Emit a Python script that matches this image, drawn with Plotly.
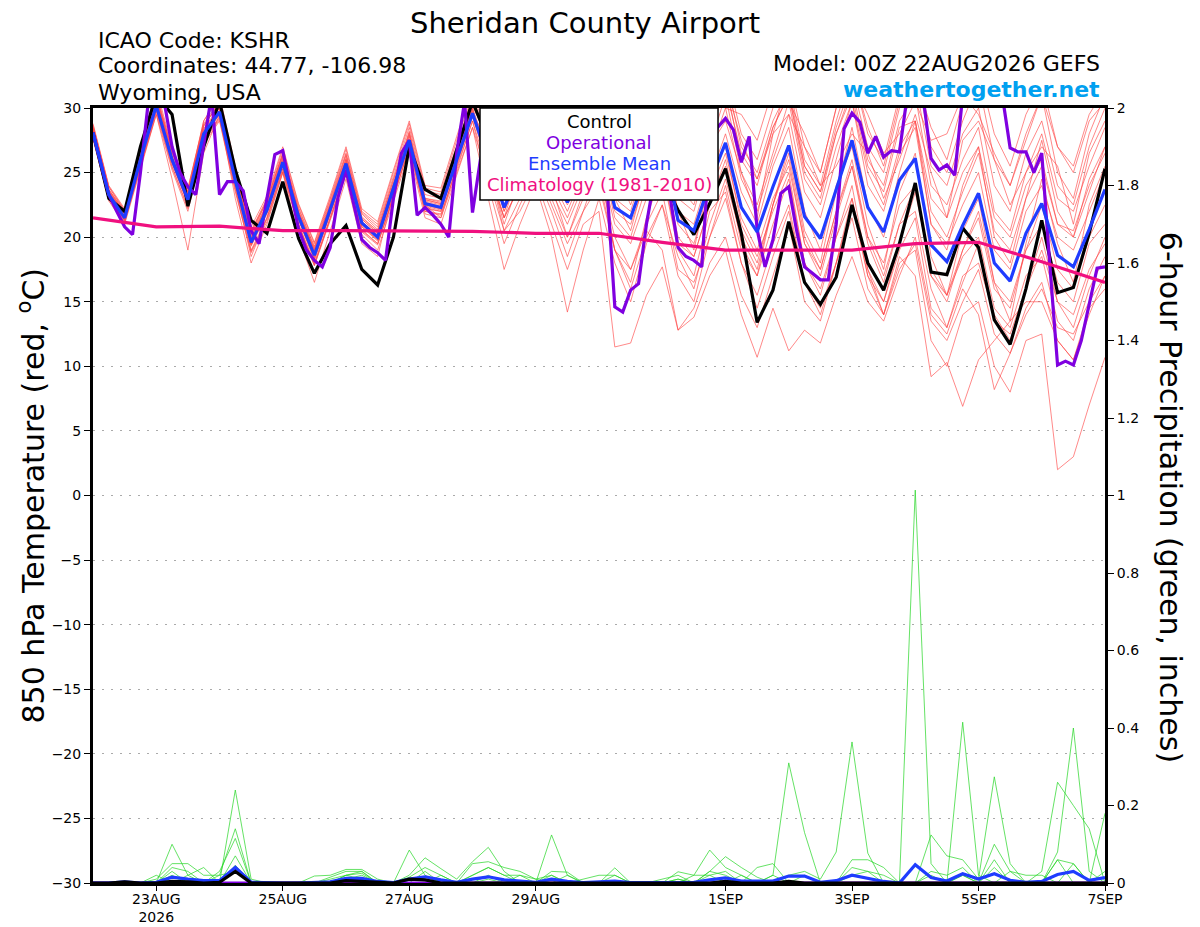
import pandas as pd
import plotly.graph_objects as go

# ---------- time axes ----------
times6 = pd.date_range("2026-08-22 00:00", periods=65, freq="6h")
times3 = pd.date_range("2026-08-22 00:00", periods=129, freq="3h")
clim_days = pd.date_range("2026-08-22", periods=17, freq="D")

x_tick_dates = ["2026-08-23", "2026-08-25", "2026-08-27", "2026-08-29",
                "2026-09-01", "2026-09-03", "2026-09-05", "2026-09-07"]
x_tick_text = ["23AUG<br>2026", "25AUG", "27AUG", "29AUG",
               "1SEP", "3SEP", "5SEP", "7SEP"]

# ---------- 850 hPa temperature (C) ----------
t_control = [28.1, 23.0, 22.0, 27.0, 31.0, 29.5, 22.4, 27.0, 30.5, 25.2, 21.3, 20.3,
             24.3, 19.9, 17.2, 19.5, 20.9, 17.5, 16.3, 20.0, 27.0, 23.7, 23.0, 26.7,
             30.5, 27.5, 24.0, 28.0, 29.0, 25.5, 26.0, 28.0, 27.0, 25.0, 28.5, 26.0,
             24.5, 22.1, 20.2, 22.6, 25.3, 20.3, 13.4, 15.9, 21.2, 16.5, 14.8, 16.9,
             22.5, 18.0, 15.9, 19.5, 24.2, 17.3, 17.1, 20.7, 19.2, 13.6, 11.7, 16.0,
             21.3, 15.7, 16.1, 20.3, 25.3]

t_mean = [28.1, 23.3, 21.5, 26.0, 30.2, 26.0, 22.9, 28.0, 29.7, 24.4, 19.6, 22.1,
          25.8, 21.6, 18.6, 22.1, 25.7, 21.1, 20.0, 23.8, 27.5, 22.6, 22.3, 26.0,
          29.6, 26.0, 22.3, 25.0, 27.5, 25.0, 22.7, 25.5, 27.5, 22.3, 21.5, 25.0,
          27.0, 21.3, 20.5, 24.2, 27.3, 22.3, 20.4, 23.9, 27.1, 21.6, 19.9, 23.7,
          27.5, 22.3, 20.4, 24.4, 26.1, 19.4, 18.1, 20.9, 23.4, 18.0, 16.6, 20.3,
          22.6, 18.6, 17.7, 20.6, 23.7]

# operational run is 3-hourly
t_oper = [28.1, 25.6, 23.3, 22.0, 20.8, 20.2, 25.0, 30.5, 31.5, 30.5, 27.0, 25.0,
          23.9, 23.3, 27.0, 31.0, 23.3, 24.3, 24.3, 23.6, 20.5, 19.5, 23.0, 26.4,
          26.7, 23.5, 20.6, 19.0, 18.2, 17.7, 19.2, 23.1, 25.2, 22.5, 19.8, 19.2,
          18.8, 18.2, 23.0, 26.5, 27.5, 21.7, 22.3, 21.7, 21.0, 20.0, 26.5, 30.5,
          21.9, 26.0, 28.0, 27.0, 25.5, 27.0, 29.0, 26.5, 24.5, 26.0, 27.5, 28.5,
          26.0, 25.0, 27.0, 26.5, 25.5, 24.0, 14.6, 14.2, 15.9, 16.4, 21.0, 24.5,
          26.0, 23.1, 19.2, 18.5, 18.2, 17.7, 27.0, 28.5, 29.2, 28.3, 25.8, 27.8,
          20.6, 17.7, 19.8, 23.4, 23.9, 20.5, 17.7, 17.2, 16.7, 16.7, 21.0, 28.4,
          29.6, 28.9, 26.5, 27.8, 26.2, 26.7, 26.6, 31.0, 31.5, 30.8, 26.1, 25.2,
          25.6, 24.8, 31.0, 33.0, 33.5, 32.5, 32.0, 31.0, 26.9, 26.6, 26.6, 25.0,
          26.5, 18.0, 10.1, 10.4, 10.1, 12.0, 14.8, 17.6, 17.7]

t_clim = [21.5, 20.8, 20.85, 20.5, 20.5, 20.5, 20.45, 20.3, 20.3, 19.6, 19.0,
          19.0, 19.0, 19.5, 19.6, 18.1, 16.5]

# ensemble members
mem01 = [28.6, 23.9, 22.0, 26.6, 31.0, 26.8, 23.5, 28.6, 30.4, 25.0, 20.2, 22.8,
         26.4, 22.2, 19.2, 22.7, 26.4, 21.8, 20.6, 24.4, 28.2, 23.3, 23.0, 26.8,
         30.5, 27.0, 23.5, 26.5, 29.0, 26.5, 24.0, 27.0, 29.5, 24.0, 23.0, 27.0,
         29.5, 23.0, 22.0, 26.5, 30.0, 24.5, 22.0, 26.0, 29.5, 23.5, 21.5, 26.0,
         30.5, 25.0, 22.5, 27.0, 29.0, 22.0, 20.0, 23.5, 26.5, 20.5, 19.0, 23.0,
         25.5, 21.0, 20.0, 23.5, 27.0]
mem02 = [27.6, 22.8, 21.0, 25.3, 29.5, 25.2, 22.0, 27.2, 29.0, 23.5, 18.8, 21.2,
         25.0, 20.8, 17.8, 21.3, 24.8, 20.2, 19.0, 22.8, 26.5, 21.5, 21.0, 24.8,
         28.5, 24.5, 20.5, 23.0, 25.5, 22.5, 19.5, 22.0, 24.0, 19.0, 17.5, 21.0,
         23.5, 17.5, 16.5, 20.0, 23.0, 18.0, 15.5, 19.5, 22.5, 16.5, 14.5, 18.0,
         21.5, 16.0, 14.0, 17.5, 19.5, 13.5, 12.0, 15.0, 17.5, 12.5, 11.0, 14.5,
         16.5, 12.0, 10.5, 14.0, 17.0]
mem03 = [28.3, 23.5, 21.8, 26.3, 31.2, 26.8, 23.5, 29.0, 30.8, 25.2, 20.5, 23.0,
         26.8, 22.5, 19.5, 23.0, 26.8, 22.0, 21.0, 25.0, 28.8, 23.8, 23.5, 27.5,
         31.0, 28.0, 24.5, 28.0, 30.5, 28.0, 25.0, 29.0, 31.0, 26.5, 25.0, 30.0,
         32.0, 27.0, 25.0, 29.0, 33.0, 28.0, 26.0, 30.0, 32.0, 26.0, 24.0, 29.0,
         33.0, 28.0, 26.0, 31.0, 33.0, 27.0, 25.0, 29.0, 32.0, 26.0, 24.0, 28.0,
         31.0, 25.0, 23.0, 28.0, 31.0]
mem04 = [27.8, 23.0, 21.2, 25.6, 29.8, 25.5, 22.3, 27.5, 29.2, 24.0, 19.0, 21.5,
         25.3, 21.0, 18.0, 21.5, 25.0, 20.5, 19.5, 23.0, 27.0, 22.0, 21.8, 25.2,
         29.0, 25.0, 21.5, 24.0, 26.5, 23.5, 21.0, 24.0, 26.0, 21.0, 19.5, 23.0,
         25.0, 19.5, 18.5, 22.5, 26.0, 20.5, 18.0, 22.5, 27.0, 20.5, 18.0, 23.5,
         28.5, 22.5, 20.0, 25.0, 29.0, 21.0, 19.0, 24.0, 27.0, 20.0, 18.0, 23.0,
         27.5, 22.0, 20.0, 24.5, 27.0]
mem05 = [28.0, 23.2, 21.4, 25.5, 29.5, 24.5, 19.0, 26.5, 29.5, 23.0, 18.0, 21.0,
         25.0, 20.0, 16.5, 20.5, 24.5, 19.5, 18.5, 23.5, 27.5, 22.5, 21.5, 25.5,
         29.5, 25.5, 21.0, 24.5, 26.0, 24.0, 20.0, 23.0, 24.5, 19.0, 16.0, 20.0,
         22.5, 17.0, 15.0, 20.0, 24.0, 19.0, 17.0, 22.5, 26.5, 20.0, 17.5, 22.0,
         26.0, 20.0, 17.0, 21.0, 22.0, 16.0, 13.0, 17.0, 18.0, 14.0, 12.0, 16.0,
         19.0, 15.0, 13.0, 17.0, 20.0]
mem06 = [28.2, 23.4, 21.6, 26.0, 30.5, 26.2, 23.0, 28.2, 30.0, 24.6, 19.8, 22.4,
         26.0, 21.8, 18.8, 22.3, 25.8, 21.2, 20.2, 24.0, 27.6, 22.8, 22.5, 26.2,
         30.0, 26.5, 22.5, 25.5, 28.0, 25.5, 23.0, 26.0, 28.5, 23.0, 22.0, 26.0,
         28.0, 22.0, 21.0, 25.0, 27.0, 21.0, 18.5, 22.0, 25.0, 18.0, 16.0, 20.0,
         23.0, 17.0, 14.0, 18.0, 19.0, 12.0, 10.0, 14.0, 15.0, 10.0, 8.0, 12.0,
         12.5, 2.0, 3.0, 7.0, 10.7]
mem07 = [28.4, 23.6, 21.8, 26.2, 30.5, 26.0, 22.5, 28.0, 29.8, 24.2, 19.5, 22.0,
         25.6, 21.4, 18.4, 21.8, 25.4, 20.8, 19.8, 23.5, 27.2, 22.2, 22.0, 25.8,
         29.5, 26.0, 22.0, 25.0, 27.5, 24.5, 22.0, 25.0, 27.0, 21.5, 20.0, 24.0,
         26.0, 20.0, 18.5, 22.5, 25.5, 19.5, 17.0, 21.0, 24.5, 18.0, 15.5, 20.0,
         24.0, 17.5, 14.0, 18.5, 17.0, 9.2, 10.3, 6.9, 10.5, 12.0, 13.5, 15.0,
         15.0, 12.0, 10.5, 14.5, 16.0]
mem08 = [28.8, 24.0, 22.2, 26.8, 30.8, 26.5, 23.8, 28.8, 30.5, 25.2, 20.5, 22.8,
         26.5, 22.0, 19.0, 22.5, 26.0, 21.5, 20.5, 24.5, 28.0, 23.0, 22.8, 26.5,
         30.0, 25.5, 20.5, 22.0, 24.5, 21.0, 17.5, 21.0, 22.0, 11.5, 11.8, 15.5,
         17.7, 12.8, 13.8, 17.0, 19.0, 14.0, 10.7, 14.5, 11.2, 12.8, 11.8, 15.5,
         18.5, 15.0, 13.5, 17.0, 20.0, 14.0, 12.5, 16.0, 14.0, 8.2, 11.0, 14.0,
         16.0, 13.0, 12.5, 15.0, 17.0]
mem09 = [28.0, 23.1, 21.3, 25.8, 30.0, 25.8, 22.7, 27.8, 29.5, 24.2, 19.4, 21.9,
         25.6, 21.4, 18.3, 21.9, 25.5, 20.9, 19.8, 23.6, 27.3, 22.4, 22.1, 25.8,
         29.4, 27.0, 24.0, 27.5, 29.5, 27.5, 25.5, 28.5, 30.5, 25.5, 24.0, 28.0,
         30.5, 24.5, 23.5, 28.0, 31.5, 26.5, 24.5, 28.5, 31.0, 25.5, 23.5, 28.0,
         31.5, 26.0, 24.0, 29.0, 31.0, 24.0, 22.5, 26.0, 28.5, 22.0, 20.5, 25.0,
         28.0, 23.0, 22.0, 25.5, 28.5]
mem10 = [27.9, 23.0, 21.3, 25.7, 30.0, 25.7, 22.6, 27.6, 29.3, 23.8, 18.5, 21.5,
         25.3, 21.0, 17.8, 21.5, 25.2, 20.6, 19.5, 23.2, 27.0, 21.8, 21.5, 25.0,
         28.5, 23.0, 17.5, 21.0, 24.0, 20.0, 14.2, 19.0, 23.0, 18.0, 15.0, 19.5,
         22.5, 18.5, 16.0, 21.0, 24.5, 20.0, 17.5, 22.5, 26.0, 19.5, 17.0, 21.5,
         25.5, 19.5, 16.5, 21.0, 24.0, 17.0, 15.0, 19.0, 21.5, 16.0, 14.5, 19.0,
         21.0, 16.5, 15.0, 19.5, 21.0]
mem11 = [28.5, 23.7, 21.9, 26.4, 30.6, 26.3, 23.2, 28.3, 30.0, 24.7, 20.0, 22.5,
         26.1, 21.9, 19.0, 22.4, 26.0, 21.4, 20.3, 24.1, 27.8, 22.9, 22.6, 26.3,
         29.8, 25.5, 21.5, 24.0, 26.5, 23.0, 20.0, 23.5, 25.0, 20.0, 17.5, 20.5,
         19.0, 12.8, 14.5, 18.0, 20.0, 15.5, 13.0, 17.0, 21.0, 15.0, 13.5, 18.0,
         22.5, 17.0, 15.0, 19.5, 23.5, 17.5, 15.5, 19.0, 22.0, 16.5, 15.0, 19.0,
         22.5, 17.5, 16.0, 20.0, 22.5]
mem12 = [28.7, 23.9, 22.1, 26.7, 31.5, 27.0, 23.7, 29.0, 31.0, 25.5, 20.8, 23.2,
         27.0, 22.6, 19.6, 23.2, 27.0, 22.2, 21.2, 25.2, 29.0, 24.0, 23.8, 27.8,
         31.5, 28.5, 25.0, 28.5, 31.0, 28.5, 26.0, 29.5, 32.0, 27.5, 26.5, 31.0,
         33.0, 28.0, 26.5, 30.5, 32.5, 27.0, 25.0, 29.0, 31.5, 25.5, 23.5, 28.5,
         32.0, 27.0, 25.0, 30.0, 32.0, 25.5, 24.0, 28.0, 30.0, 24.0, 22.0, 26.5,
         29.0, 24.0, 22.5, 27.0, 30.0]
mem13 = [28.1, 23.3, 21.5, 26.0, 30.3, 26.1, 22.9, 28.1, 29.8, 24.5, 19.7, 22.2,
         25.9, 21.7, 18.7, 22.2, 25.8, 21.2, 20.1, 23.9, 27.6, 22.7, 22.4, 26.1,
         29.7, 26.5, 23.0, 26.0, 28.0, 26.0, 23.5, 26.5, 29.0, 24.5, 23.5, 27.5,
         30.0, 24.0, 22.5, 27.0, 31.0, 25.0, 22.5, 26.5, 30.5, 24.5, 22.5, 27.0,
         30.5, 24.0, 22.0, 26.5, 28.5, 21.0, 19.5, 22.5, 25.0, 19.0, 17.5, 22.0,
         24.0, 20.0, 19.0, 22.0, 25.0]
mem14 = [28.3, 23.5, 21.7, 26.1, 30.4, 26.0, 22.8, 28.0, 29.6, 24.3, 19.4, 22.0,
         25.7, 21.5, 18.5, 22.0, 25.6, 21.0, 19.9, 23.7, 27.4, 22.5, 22.2, 25.9,
         29.5, 26.0, 22.0, 25.0, 27.0, 25.0, 22.5, 25.0, 27.0, 22.0, 21.0, 24.5,
         26.5, 21.0, 19.5, 23.5, 26.5, 21.5, 19.0, 23.0, 25.5, 19.5, 17.5, 22.0,
         25.5, 20.0, 18.0, 22.5, 24.0, 17.0, 15.5, 18.5, 20.0, 14.5, 13.0, 17.0,
         18.5, 13.5, 12.0, 16.0, 18.5]
mem15 = [28.0, 23.2, 21.4, 25.9, 30.1, 25.9, 22.8, 27.9, 29.6, 24.3, 19.5, 22.0,
         25.7, 21.5, 18.5, 22.0, 25.6, 21.0, 19.9, 23.7, 27.4, 22.5, 22.2, 25.9,
         29.5, 27.5, 25.0, 28.5, 30.5, 29.0, 27.0, 30.0, 31.5, 27.0, 26.0, 30.5,
         31.5, 25.5, 24.5, 29.5, 32.0, 26.0, 24.0, 28.5, 31.0, 25.0, 23.0, 28.0,
         31.0, 25.5, 23.5, 28.5, 29.0, 23.0, 21.5, 25.0, 27.0, 21.5, 20.0, 24.0,
         26.0, 21.0, 20.5, 24.0, 26.5]
mem16 = [27.7, 22.9, 21.1, 25.4, 29.7, 25.4, 22.2, 27.4, 29.1, 23.7, 18.9, 21.4,
         25.1, 20.9, 17.9, 21.4, 25.0, 20.4, 19.4, 23.2, 26.8, 22.0, 21.7, 25.4,
         29.0, 24.0, 19.5, 22.5, 25.0, 22.0, 18.5, 22.0, 25.5, 19.0, 16.5, 21.5,
         25.0, 19.0, 17.0, 22.0, 23.5, 18.0, 14.5, 18.5, 22.0, 16.5, 14.0, 18.0,
         23.0, 17.5, 15.0, 19.0, 21.5, 14.5, 13.0, 16.5, 19.5, 13.5, 12.5, 16.0,
         20.0, 15.0, 14.0, 17.5, 19.5]
mem17 = [28.4, 23.4, 21.6, 26.2, 30.8, 26.3, 23.1, 28.4, 30.1, 24.8, 19.9, 22.5,
         26.2, 21.9, 18.9, 22.4, 26.1, 21.4, 20.3, 24.1, 27.9, 22.9, 22.6, 26.4,
         30.2, 27.5, 25.5, 29.0, 31.0, 27.0, 26.5, 31.0, 30.0, 28.5, 27.0, 29.5,
         31.5, 29.0, 26.0, 30.5, 30.0, 29.5, 27.5, 31.5, 30.5, 28.0, 25.0, 30.0,
         32.0, 29.5, 26.5, 28.0, 30.5, 27.5, 28.0, 31.0, 29.5, 26.5, 24.0, 27.5,
         31.0, 27.0, 25.5, 29.5, 31.5]
mem18 = [28.2, 23.6, 21.9, 26.5, 30.9, 26.6, 23.4, 28.7, 30.3, 24.9, 20.1, 22.6,
         26.3, 22.0, 19.1, 22.6, 26.3, 21.6, 20.4, 24.2, 28.1, 23.0, 22.7, 26.6,
         29.9, 25.0, 23.5, 27.5, 28.5, 23.0, 24.5, 28.5, 29.0, 25.5, 22.5, 26.0,
         28.5, 26.5, 24.5, 27.0, 29.0, 25.0, 21.5, 28.0, 29.5, 27.0, 24.0, 25.5,
         28.0, 26.5, 23.0, 26.0, 29.5, 25.0, 21.5, 27.5, 29.0, 26.0, 22.5, 25.0,
         27.0, 25.5, 21.0, 26.5, 29.0]
mem19 = [27.9, 23.1, 21.3, 25.8, 30.0, 25.8, 22.6, 27.8, 29.5, 24.1, 19.3, 21.8,
         25.5, 21.3, 18.2, 21.8, 25.4, 20.8, 19.7, 23.5, 27.2, 22.3, 22.0, 25.7,
         29.3, 25.5, 21.5, 25.5, 27.0, 24.0, 21.5, 24.5, 26.5, 23.0, 20.5, 25.0,
         27.5, 22.0, 19.0, 24.5, 28.0, 23.5, 21.0, 25.5, 28.5, 22.0, 19.0, 24.0,
         27.0, 21.0, 17.5, 23.5, 26.5, 18.5, 15.5, 20.5, 23.0, 16.5, 13.5, 19.5,
         24.5, 19.5, 16.5, 22.5, 25.5]
mem20 = [28.5, 23.7, 22.0, 26.5, 30.9, 26.6, 23.3, 28.6, 30.4, 25.0, 20.3, 22.9,
         26.5, 22.3, 19.3, 22.9, 26.5, 21.9, 20.8, 24.7, 28.5, 23.6, 23.3, 27.1,
         30.8, 27.0, 24.0, 27.5, 29.5, 27.5, 24.5, 28.0, 30.0, 26.0, 23.5, 28.5,
         31.0, 26.0, 24.0, 28.5, 32.0, 27.5, 24.5, 28.0, 32.5, 27.0, 25.0, 30.0,
         33.0, 28.5, 25.5, 30.5, 32.5, 28.5, 26.0, 30.5, 33.0, 28.0, 25.5, 29.5,
         32.0, 27.0, 25.0, 29.0, 30.5]

t_members = [mem01, mem02, mem03, mem04, mem05, mem06, mem07, mem08, mem09, mem10,
             mem11, mem12, mem13, mem14, mem15, mem16, mem17, mem18, mem19, mem20]

# ---------- 6-hour precipitation (inches) ----------
p_control = [0, 0, 0.003, 0, 0, 0.004, 0.003, 0, 0.002, 0.03, 0, 0,
             0, 0, 0, 0, 0.006, 0.004, 0, 0, 0.01, 0.008, 0, 0,
             0, 0, 0, 0, 0, 0, 0, 0, 0, 0, 0, 0,
             0, 0, 0, 0, 0.004, 0, 0, 0, 0.004, 0, 0, 0,
             0, 0, 0, 0, 0, 0, 0, 0, 0, 0, 0, 0,
             0, 0, 0, 0, 0]
p_oper = [0, 0, 0, 0, 0, 0, 0, 0, 0, 0, 0, 0,
          0, 0, 0, 0, 0, 0, 0, 0, 0, 0, 0, 0,
          0, 0, 0, 0, 0, 0, 0, 0, 0, 0, 0, 0,
          0, 0, 0, 0, 0, 0, 0, 0, 0, 0, 0, 0,
          0, 0, 0, 0, 0, 0, 0, 0, 0, 0, 0, 0,
          0, 0, 0, 0, 0]
p_mean = [0, 0, 0.003, 0, 0.002, 0.015, 0.01, 0.006, 0.006, 0.04, 0.002, 0,
          0, 0, 0.002, 0.003, 0.012, 0.012, 0.004, 0.001, 0.01, 0.016, 0.008, 0.002,
          0.01, 0.016, 0.008, 0.004, 0.002, 0.01, 0.004, 0.001, 0.002, 0.005, 0.001, 0.001,
          0.001, 0.003, 0.002, 0.008, 0.013, 0.005, 0.004, 0.005, 0.018, 0.018, 0.002, 0.006,
          0.02, 0.012, 0.004, 0, 0.047, 0.014, 0.005, 0.024, 0.01, 0.024, 0.007, 0.002,
          0.004, 0.022, 0.03, 0.007, 0.014]

pmem01 = [0, 0, 0, 0, 0, 0.10, 0.02, 0, 0, 0.24, 0.01, 0,
          0, 0, 0, 0, 0.02, 0.03, 0, 0, 0.085, 0.02, 0, 0,
          0.02, 0.04, 0.02, 0, 0, 0.124, 0.02, 0, 0, 0.02, 0, 0,
          0, 0.01, 0, 0.03, 0.02, 0, 0, 0.02, 0.31, 0.13, 0, 0,
          0.02, 0.03, 0, 0, 1.014, 0.05, 0, 0.02, 0, 0.06, 0, 0,
          0, 0.08, 0.40, 0.03, 0]
pmem02 = [0, 0, 0, 0, 0.01, 0.05, 0.05, 0.02, 0.02, 0.14, 0, 0,
          0, 0, 0.018, 0.02, 0.035, 0.035, 0.01, 0, 0.02, 0.065, 0.037, 0.01,
          0.055, 0.092, 0.03, 0, 0, 0.03, 0.028, 0, 0, 0.039, 0, 0,
          0, 0.029, 0.02, 0.085, 0.04, 0.02, 0, 0, 0.02, 0.03, 0.01, 0.08,
          0.364, 0.077, 0, 0, 0, 0.02, 0, 0.415, 0.02, 0, 0, 0,
          0.03, 0.26, 0.20, 0.14, 0]
pmem03 = [0, 0, 0, 0, 0, 0.04, 0.03, 0, 0.03, 0.115, 0, 0,
          0, 0, 0, 0.015, 0.03, 0.03, 0, 0, 0.015, 0.04, 0.02, 0,
          0.05, 0.055, 0.04, 0.03, 0.01, 0.02, 0, 0.01, 0.02, 0.02, 0, 0,
          0.01, 0.02, 0, 0.03, 0.068, 0.04, 0.015, 0, 0, 0.02, 0, 0,
          0.06, 0.06, 0.04, 0, 0, 0.124, 0.07, 0.06, 0.01, 0.274, 0.05, 0,
          0, 0.06, 0.05, 0, 0.18]
pmem04 = [0, 0, 0, 0, 0, 0.03, 0, 0, 0, 0.07, 0, 0,
          0, 0, 0, 0, 0.02, 0.025, 0, 0, 0, 0.03, 0, 0,
          0.02, 0.04, 0.02, 0.02, 0, 0, 0.02, 0, 0, 0, 0, 0,
          0, 0.01, 0, 0.02, 0.03, 0, 0.04, 0.05, 0, 0, 0, 0,
          0.04, 0.03, 0.02, 0, 0, 0.03, 0.02, 0.04, 0, 0.10, 0.03, 0.02,
          0.02, 0, 0, 0, 0.03]
pmem05 = [0, 0, 0, 0, 0.02, 0, 0.02, 0.04, 0, 0.046, 0, 0,
          0, 0, 0, 0, 0.01, 0.02, 0, 0, 0, 0, 0, 0,
          0, 0.01, 0, 0.02, 0.01, 0, 0, 0, 0, 0, 0, 0,
          0, 0, 0, 0, 0, 0, 0, 0.02, 0, 0, 0, 0,
          0, 0, 0, 0, 0, 0, 0, 0.02, 0, 0.04, 0, 0,
          0, 0, 0.05, 0, 0]
pmem06 = [0, 0, 0, 0, 0, 0.02, 0, 0, 0.02, 0.03, 0, 0,
          0, 0, 0, 0.01, 0.02, 0.01, 0, 0, 0, 0, 0.02, 0,
          0, 0.02, 0, 0, 0, 0.02, 0, 0, 0, 0, 0, 0,
          0, 0, 0.02, 0.02, 0, 0.02, 0, 0, 0, 0, 0, 0,
          0, 0, 0, 0, 0, 0, 0, 0, 0, 0, 0.03, 0,
          0, 0.06, 0, 0, 0]

p_members = [pmem01, pmem02, pmem03, pmem04, pmem05, pmem06]

# ---------- colours ----------
RED = "rgba(255,70,70,0.8)"
GREEN = "rgba(40,215,40,0.9)"
PURPLE = "#7f00e0"
BLUE = "#1f3cff"
MAGENTA = "#f0107f"
FONT = "DejaVu Sans"

fig = go.Figure()

for m in t_members:
    fig.add_trace(go.Scatter(x=times6, y=m, mode="lines",
                             line=dict(color=RED, width=0.8), yaxis="y"))

fig.add_trace(go.Scatter(x=times6, y=t_control, mode="lines",
                         line=dict(color="black", width=3.2), yaxis="y"))
fig.add_trace(go.Scatter(x=times3, y=t_oper, mode="lines",
                         line=dict(color=PURPLE, width=3.2), yaxis="y"))
fig.add_trace(go.Scatter(x=times6, y=t_mean, mode="lines",
                         line=dict(color=BLUE, width=3.2), yaxis="y"))
fig.add_trace(go.Scatter(x=clim_days, y=t_clim, mode="lines",
                         line=dict(color=MAGENTA, width=3.2), yaxis="y"))

for p in p_members:
    fig.add_trace(go.Scatter(x=times6, y=p, mode="lines",
                             line=dict(color=GREEN, width=0.8), yaxis="y2"))
fig.add_trace(go.Scatter(x=times6, y=p_oper, mode="lines",
                         line=dict(color=PURPLE, width=3.2), yaxis="y2"))
fig.add_trace(go.Scatter(x=times6, y=p_mean, mode="lines",
                         line=dict(color=BLUE, width=3.2), yaxis="y2"))
fig.add_trace(go.Scatter(x=times6, y=p_control, mode="lines",
                         line=dict(color="black", width=3.2), yaxis="y2"))

# legend box drawn by hand (paper coords)
fig.add_shape(type="rect", xref="paper", yref="paper",
              x0=0.3824, x1=0.6176, y0=0.8813, y1=1.0,
              line=dict(color="black", width=1.5), fillcolor="white", layer="above")

legend_items = [("Control", "black", 0.983), ("Operational", PURPLE, 0.956),
                ("Ensemble Mean", BLUE, 0.929), ("Climatology (1981-2010)", MAGENTA, 0.901)]
for txt, col, yy in legend_items:
    fig.add_annotation(text=txt, x=0.5, y=yy, xref="paper", yref="paper",
                       showarrow=False, font=dict(family=FONT, size=18, color=col),
                       xanchor="center", yanchor="middle")

# header texts
fig.add_annotation(text="Sheridan County Airport", x=0.486, y=1.1098, xref="paper", yref="paper",
                   showarrow=False, font=dict(family=FONT, size=29, color="black"),
                   xanchor="center", yanchor="middle", borderpad=0)
for txt, yy in [("ICAO Code: KSHR", 1.0877), ("Coordinates: 44.77, -106.98", 1.0542),
                ("Wyoming, USA", 1.0206)]:
    fig.add_annotation(text=txt, x=0.003, y=yy, xref="paper", yref="paper",
                       showarrow=False, font=dict(family=FONT, size=22, color="black"),
                       xanchor="left", yanchor="middle")
fig.add_annotation(text="Model: 00Z 22AUG2026 GEFS", x=0.997, y=1.0568, xref="paper", yref="paper",
                   showarrow=False, font=dict(family=FONT, size=22, color="black"),
                   xanchor="right", yanchor="middle")
fig.add_annotation(text="<b>weathertogether.net</b>", x=0.997, y=1.0245, xref="paper", yref="paper",
                   showarrow=False, font=dict(family=FONT, size=22, color="#00a0f0"),
                   xanchor="right", yanchor="middle")

# axis titles
fig.add_annotation(text="850 hPa Temperature (red, <sup>o</sup>C)", x=-0.0603, y=0.5,
                   xref="paper", yref="paper", showarrow=False, textangle=-90,
                   font=dict(family=FONT, size=30, color="black"),
                   xanchor="center", yanchor="middle")
fig.add_annotation(text="6-hour Precipitation (green, inches)", x=1.0642, y=0.497,
                   xref="paper", yref="paper", showarrow=False, textangle=90,
                   font=dict(family=FONT, size=30, color="black"),
                   xanchor="center", yanchor="middle")

# page body has an 8px margin, so the figure is shrunk and shifted to compensate
fig.update_layout(
    width=1192, height=919,
    margin=dict(l=85, r=95, t=100, b=44),
    paper_bgcolor="white", plot_bgcolor="white",
    showlegend=False,
    font=dict(family=FONT, size=14, color="black"),
    xaxis=dict(type="date", range=[times6[0], times6[-1]],
               tickvals=x_tick_dates, ticktext=x_tick_text,
               ticks="outside", ticklen=5, tickwidth=1, tickcolor="black",
               ticklabelstandoff=-4,
               showgrid=False, zeroline=False, automargin=False,
               showline=True, linecolor="black", linewidth=2.5, mirror=True,
               tickfont=dict(size=14)),
    yaxis=dict(range=[-30, 30], tick0=-30, dtick=5,
               ticks="outside", ticklen=6, tickcolor="black",
               showgrid=True, gridcolor="#aaaaaa", gridwidth=1, griddash="2px,7px",
               zeroline=False, automargin=False,
               showline=True, linecolor="black", linewidth=3,
               tickfont=dict(size=14)),
    yaxis2=dict(range=[0, 2], tick0=0, dtick=0.2, overlaying="y", side="right",
                ticks="outside", ticklen=6, tickcolor="black",
                showgrid=False, zeroline=False, automargin=False,
                showline=True, linecolor="black", linewidth=3,
                tickfont=dict(size=14)),
)

fig.write_html("out.html")
